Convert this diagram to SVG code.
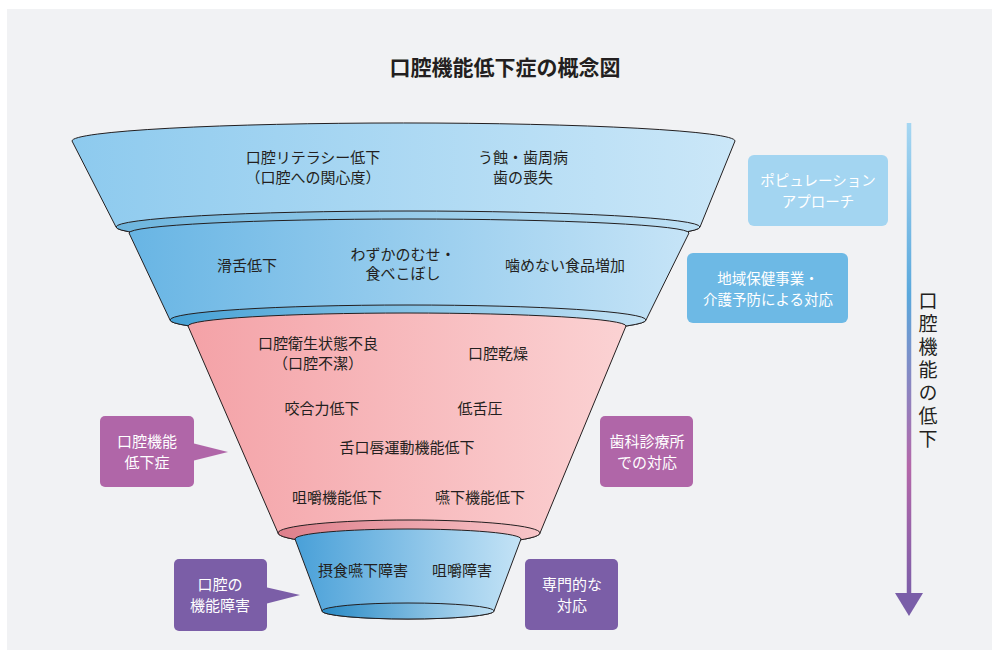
<svg xmlns="http://www.w3.org/2000/svg" width="996" height="652" viewBox="0 0 996 652">
<defs>
<style>
text{font-family:"Noto Sans CJK JP","Noto Sans CJK SC",sans-serif;text-anchor:middle}
.t{font-size:15px;fill:#231f20}
.b{font-size:15px;fill:#ffffff}
.ttl{font-size:21px;font-weight:bold;fill:#231f20}
.ol{stroke:#231f20;stroke-width:1}
</style>
<linearGradient id="g1" x1="0" x2="1" y1="0" y2="0"><stop offset="0" stop-color="#8dcaee"/><stop offset="1" stop-color="#cbe7f8"/></linearGradient>
<linearGradient id="r1" x1="0" x2="1" y1="0" y2="0"><stop offset="0" stop-color="#6db5de"/><stop offset="1" stop-color="#bfe1f5"/></linearGradient>
<linearGradient id="g2" x1="0" x2="1" y1="0" y2="0"><stop offset="0" stop-color="#68b5e4"/><stop offset="1" stop-color="#c6e4f7"/></linearGradient>
<linearGradient id="r2" x1="0" x2="1" y1="0" y2="0"><stop offset="0" stop-color="#46a2d6"/><stop offset="1" stop-color="#c3e2f5"/></linearGradient>
<linearGradient id="g3" x1="0" x2="1" y1="0" y2="0"><stop offset="0" stop-color="#f4a2a7"/><stop offset="1" stop-color="#fbd2d3"/></linearGradient>
<linearGradient id="r3" x1="0" x2="1" y1="0" y2="0"><stop offset="0" stop-color="#de7f8b"/><stop offset="1" stop-color="#f8c6c9"/></linearGradient>
<linearGradient id="g4" x1="0" x2="1" y1="0" y2="0"><stop offset="0" stop-color="#49a0d8"/><stop offset="1" stop-color="#c4e3f6"/></linearGradient>
<linearGradient id="r4" x1="0" x2="1" y1="0" y2="0"><stop offset="0" stop-color="#2a8bc6"/><stop offset="1" stop-color="#bfe0f4"/></linearGradient>
<linearGradient id="ga" gradientUnits="userSpaceOnUse" x1="0" y1="123" x2="0" y2="600"><stop offset="0" stop-color="#a6d7f2"/><stop offset="0.36" stop-color="#5aa8dc"/><stop offset="0.72" stop-color="#b467a9"/><stop offset="1" stop-color="#7a5ea8"/></linearGradient>
</defs>
<rect x="7" y="9" width="985" height="641" fill="#f1f2f4"/>
<text id="title" class="ttl" x="505" y="74.5">口腔機能低下症の概念図</text>

<g id="tier1">
<path class="ol" fill="url(#g1)" d="M72,141 A331,18 0 0 1 735,141 L700,227 A292,16 0 0 1 116,227 Z"/>
<ellipse class="ol" fill="url(#r1)" cx="408" cy="227" rx="292" ry="16"/>
<text class="t" x="313" y="162.5">口腔リテラシー低下</text>
<text class="t" x="313" y="182.5">（口腔への関心度）</text>
<text class="t" x="523" y="162.5">う蝕・歯周病</text>
<text class="t" x="523" y="182.5">歯の喪失</text>
</g>

<g id="tier2">
<path class="ol" fill="url(#g2)" d="M129,233 A280,14 0 0 1 689,233 L646,320 A238,15 0 0 1 170,320 Z"/>
<ellipse class="ol" fill="url(#r2)" cx="408" cy="320" rx="238" ry="15"/>
<text class="t" x="247" y="270.5">滑舌低下</text>
<text class="t" x="403" y="259.5">わずかのむせ・</text>
<text class="t" x="403" y="278.5">食べこぼし</text>
<text class="t" x="565" y="270.5">噛めない食品増加</text>
</g>

<g id="tier3">
<path class="ol" fill="url(#g3)" d="M188,326 A219,13 0 0 1 626,326 L540,533 A131,13 0 0 1 278,533 Z"/>
<ellipse class="ol" fill="url(#r3)" cx="409" cy="533" rx="131" ry="13"/>
<text class="t" x="318" y="348.5">口腔衛生状態不良</text>
<text class="t" x="318" y="368.5">（口腔不潔）</text>
<text class="t" x="498" y="358.5">口腔乾燥</text>
<text class="t" x="322" y="413.5">咬合力低下</text>
<text class="t" x="480" y="413.5">低舌圧</text>
<text class="t" x="407" y="452.5">舌口唇運動機能低下</text>
<text class="t" x="337" y="502.5">咀嚼機能低下</text>
<text class="t" x="480" y="502.5">嚥下機能低下</text>
</g>

<g id="tier4">
<path class="ol" fill="url(#g4)" d="M295,539 A113,10 0 0 1 521,539 L494,611 A86,8 0 0 1 322,611 Z"/>
<ellipse class="ol" fill="url(#r4)" cx="408" cy="611" rx="86" ry="8"/>
<text class="t" x="363" y="575.5">摂食嚥下障害</text>
<text class="t" x="462" y="575.5">咀嚼障害</text>
</g>

<g id="box-population">
<rect x="748" y="155" width="140" height="71" rx="6" fill="#a3d5f1"/>
<text class="b" x="818" y="185.5" style="font-size:14.5px">ポピュレーション</text>
<text class="b" x="818" y="206.5" style="font-size:14.5px">アプローチ</text>
</g>

<g id="box-community">
<rect x="687" y="253" width="161" height="70" rx="6" fill="#6db9e5"/>
<text class="b" x="768" y="283.5" style="font-size:14.5px">地域保健事業・</text>
<text class="b" x="768" y="304.5" style="font-size:14.5px">介護予防による対応</text>
</g>

<g id="callout-hypofunction">
<rect x="100" y="416" width="94" height="71" rx="5" fill="#b066a8"/>
<polygon points="192,443 228,452 192,461" fill="#b066a8"/>
<text class="b" x="147" y="447">口腔機能</text>
<text class="b" x="147" y="468">低下症</text>
</g>

<g id="box-dental">
<rect x="600" y="416" width="93" height="71" rx="5" fill="#b066a8"/>
<text class="b" x="647" y="447">歯科診療所</text>
<text class="b" x="647" y="468">での対応</text>
</g>

<g id="callout-disorder">
<rect x="174" y="559" width="93" height="72" rx="5" fill="#7b5ea7"/>
<polygon points="265,587 300,595 265,604" fill="#7b5ea7"/>
<text class="b" x="220" y="590">口腔の</text>
<text class="b" x="220" y="611">機能障害</text>
</g>

<g id="box-specialist">
<rect x="525" y="559" width="93" height="71" rx="5" fill="#7b5ea7"/>
<text class="b" x="572" y="590">専門的な</text>
<text class="b" x="572" y="611">対応</text>
</g>

<g id="connectors">
<line x1="909" y1="123" x2="909" y2="597" stroke="url(#ga)" stroke-width="4.5"/>
<polygon points="895,593 923,593 909,616" fill="#7a5ea8"/>
</g>

<g id="axis-label">
<text x="928" y="291" style="font-size:19px;fill:#231f20;writing-mode:vertical-rl;text-anchor:start;letter-spacing:4px">口腔機能の低下</text>
</g>
</svg>
